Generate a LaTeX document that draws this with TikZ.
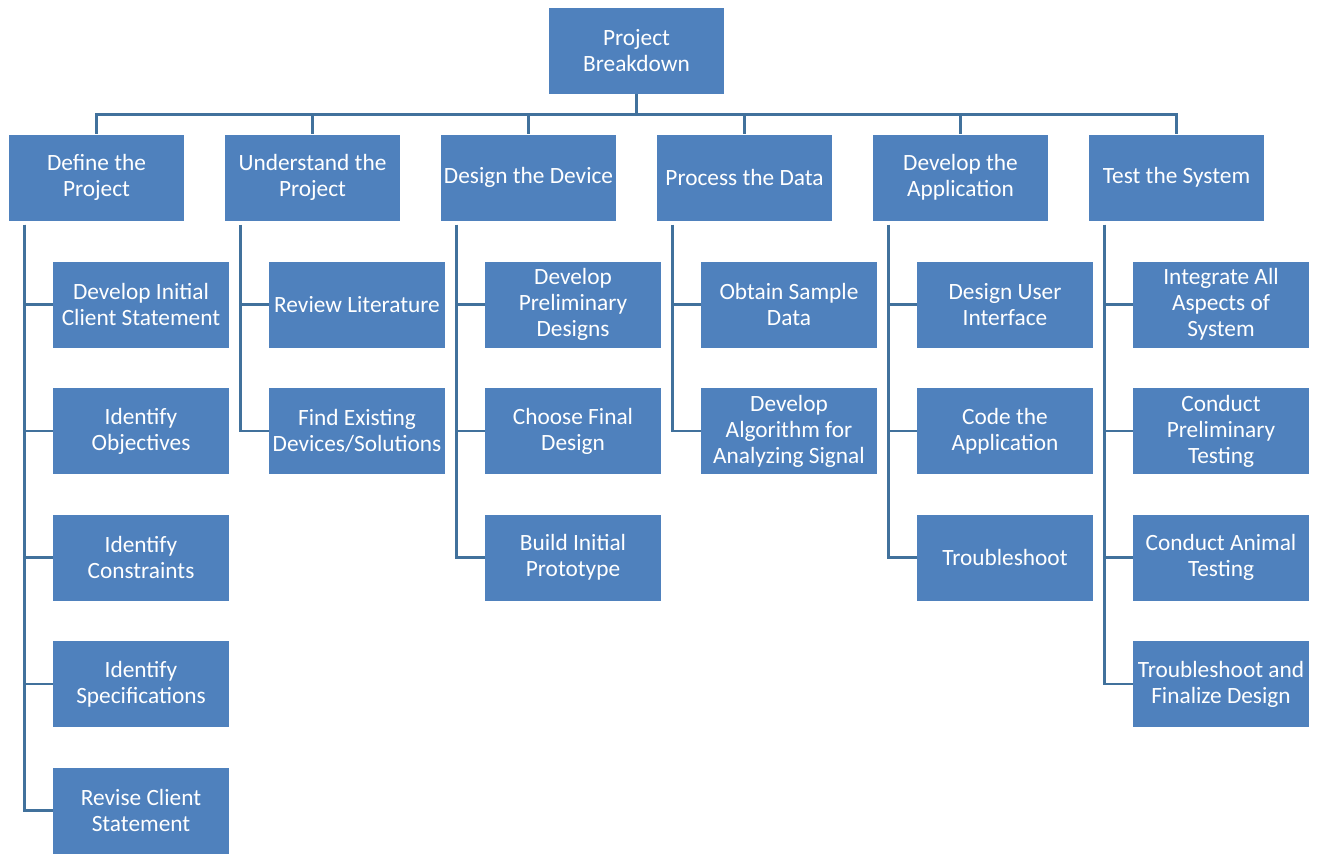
\documentclass[tikz,border=0pt]{standalone}
\usepackage{fontspec}
\setmainfont{Carlito}
\definecolor{boxblue}{HTML}{4F81BD}
\definecolor{lineblue}{HTML}{41719C}
\tikzset{
	wbs/.style={fill=boxblue, text=white, minimum width=131.5pt, minimum height=64.5pt,
		inner sep=1pt, align=center, font=\fontsize{17.5}{19.5}\selectfont},
	link/.style={draw=lineblue, line width=2.2pt}
}
\begin{document}
\begin{tikzpicture}[x=0.75pt,y=-0.75pt]
\useasboundingbox (0,0) rectangle (1321,854);

\node[wbs] (top) at (636.5,51) {Project\\Breakdown};

% first level
\node[wbs] (def) at (96.5,177.5) {Define the\\Project};
\node[wbs] (und) at (312.5,177.5) {Understand the\\Project};
\node[wbs] (des) at (528.5,177.5) {Design the Device};
\node[wbs] (pro) at (744.5,177.5) {Process the Data};
\node[wbs] (app) at (960.5,177.5) {Develop the\\Application};
\node[wbs] (tst) at (1176.5,177.5) {Test the System};

\foreach \p in {def,und,des,pro,app,tst}{
	\draw[link] (top.south) -- ++(0,20) -| (\p.north);
}

% second level
\node[wbs] (def1) at (141,304.5) {Develop Initial\\Client Statement};
\node[wbs] (def2) at (141,431) {Identify\\Objectives};
\node[wbs] (def3) at (141,557.5) {Identify\\Constraints};
\node[wbs] (def4) at (141,684) {Identify\\Specifications};
\node[wbs] (def5) at (141,810.5) {Revise Client\\Statement};

\node[wbs] (und1) at (357,304.5) {Review Literature};
\node[wbs] (und2) at (357,431) {Find Existing\\Devices/Solutions};

\node[wbs] (des1) at (573,304.5) {Develop\\Preliminary\\Designs};
\node[wbs] (des2) at (573,431) {Choose Final\\Design};
\node[wbs] (des3) at (573,557.5) {Build Initial\\Prototype};

\node[wbs] (pro1) at (789,304.5) {Obtain Sample\\Data};
\node[wbs] (pro2) at (789,431) {Develop\\Algorithm for\\Analyzing Signal};

\node[wbs] (app1) at (1005,304.5) {Design User\\Interface};
\node[wbs] (app2) at (1005,431) {Code the\\Application};
\node[wbs] (app3) at (1005,557.5) {Troubleshoot};

\node[wbs] (tst1) at (1221,304.5) {Integrate All\\Aspects of\\System};
\node[wbs] (tst2) at (1221,431) {Conduct\\Preliminary\\Testing};
\node[wbs] (tst3) at (1221,557.5) {Conduct Animal\\Testing};
\node[wbs] (tst4) at (1221,684) {Troubleshoot and\\Finalize Design};

\foreach \p/\n in {def/5,und/2,des/3,pro/2,app/3,tst/4}{
	\foreach \j in {1,...,\n}{
		\draw[link] (\p.south west) ++(16,4) |- (\p\j.west);
	}
}
\end{tikzpicture}
\end{document}
